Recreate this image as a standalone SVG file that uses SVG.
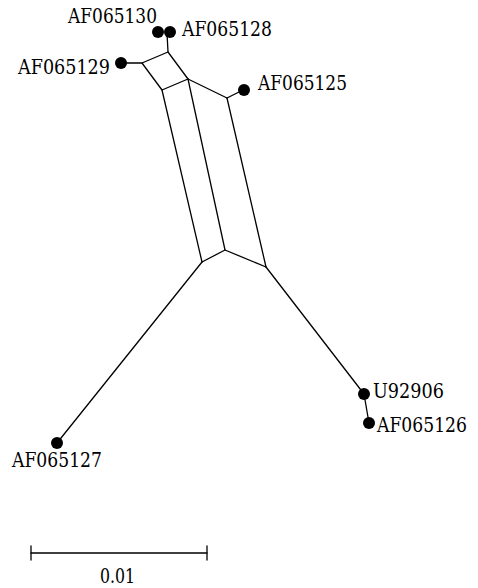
<svg xmlns="http://www.w3.org/2000/svg" width="478" height="588" viewBox="0 0 478 588">
  <style>
    .edge { stroke: #000; stroke-width: 1.3; fill: none; stroke-linecap: round; stroke-linejoin: round; }
    .tip { fill: #000; }
    text { font-family: 'DejaVu Serif', serif; font-size: 19.5px; fill: #000; }
  </style>
  <rect width="478" height="588" fill="#fff"/>

  <!-- split network edges -->
  <g id="edges">
    <!-- top square -->
    <polyline class="edge" points="168,52 142,63 162,90 188,79 168,52"/>
    <!-- long parallel splits -->
    <line class="edge" x1="162" y1="90" x2="202" y2="262"/>
    <line class="edge" x1="188" y1="79" x2="225" y2="250"/>
    <line class="edge" x1="227" y1="98" x2="266" y2="267"/>
    <line class="edge" x1="188" y1="79" x2="227" y2="98"/>
    <polyline class="edge" points="202,262 225,250 266,267"/>
    <!-- pendant edges -->
    <line class="edge" x1="168" y1="52" x2="167" y2="33"/>
    <line class="edge" x1="142" y1="63" x2="121" y2="63"/>
    <line class="edge" x1="227" y1="98" x2="243" y2="90"/>
    <line class="edge" x1="202" y1="262" x2="57" y2="443"/>
    <line class="edge" x1="266" y1="267" x2="364" y2="394"/>
    <line class="edge" x1="364" y1="394" x2="369" y2="423"/>
  </g>

  <g id="AF065130"><circle class="tip" cx="158" cy="32" r="6"/><text x="68" y="23" textLength="89" lengthAdjust="spacingAndGlyphs">AF065130</text></g>
  <g id="AF065128"><circle class="tip" cx="170" cy="32" r="6"/><text x="182" y="36" textLength="90" lengthAdjust="spacingAndGlyphs">AF065128</text></g>
  <g id="AF065129"><circle class="tip" cx="121" cy="63" r="6"/><text x="18" y="74" textLength="92" lengthAdjust="spacingAndGlyphs">AF065129</text></g>
  <g id="AF065125"><circle class="tip" cx="244" cy="90" r="6"/><text x="258" y="90" textLength="89" lengthAdjust="spacingAndGlyphs">AF065125</text></g>
  <g id="U92906"><circle class="tip" cx="364" cy="394" r="6"/><text x="373" y="398" textLength="71" lengthAdjust="spacingAndGlyphs">U92906</text></g>
  <g id="AF065126"><circle class="tip" cx="369" cy="423" r="6"/><text x="377" y="432" textLength="90" lengthAdjust="spacingAndGlyphs">AF065126</text></g>
  <g id="AF065127"><circle class="tip" cx="57" cy="443" r="6"/><text x="12" y="467" textLength="90" lengthAdjust="spacingAndGlyphs">AF065127</text></g>

  <!-- scale bar -->
  <g id="scale">
    <line class="edge" x1="31" y1="553" x2="207" y2="553"/>
    <line class="edge" x1="31" y1="546" x2="31" y2="560"/>
    <line class="edge" x1="207" y1="546" x2="207" y2="560"/>
    <text x="100" y="583" textLength="35" lengthAdjust="spacingAndGlyphs">0.01</text>
  </g>
</svg>
